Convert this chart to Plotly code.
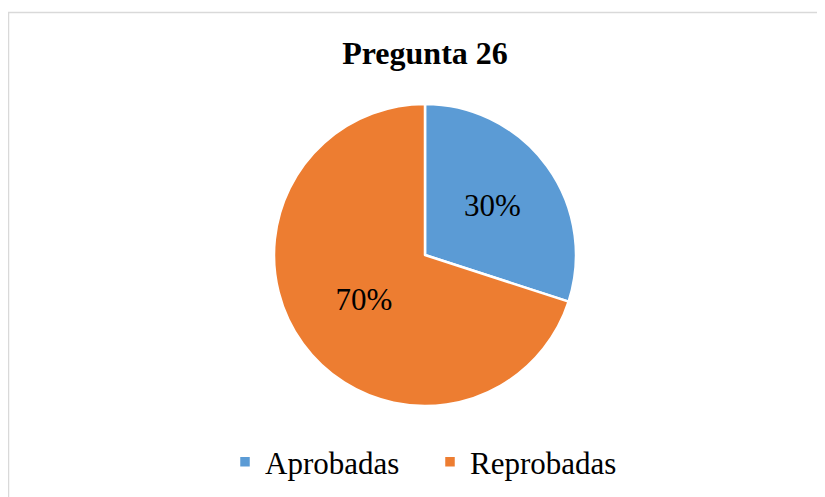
"""
Pie chart: Pregunta 26 - aprobadas vs reprobadas.
"""

import plotly.graph_objects as go

labels = ["Aprobadas", "Reprobadas"]
values = [30, 70]
colors = ["#5B9BD5", "#ED7D31"]

W, H = 825, 497
OFF = 8  # page body margin pushes the figure 8px right/down
FONT = "Liberation Serif, Times New Roman, serif"

# Pie centre / radius in window pixels
CX, CY, R = 425, 255, 151


def px_x(x):
    return (x - OFF) / W


def px_y(y):
    return 1 - (y - OFF) / H


fig = go.Figure()

fig.add_trace(
    go.Pie(
        labels=labels,
        values=values,
        sort=False,
        direction="clockwise",
        rotation=0,
        marker={"colors": colors, "line": {"color": "white", "width": 2.5}},
        textinfo="percent",
        texttemplate="%{percent:.0%}",
        textposition="inside",
        insidetextorientation="horizontal",
        textfont={"family": FONT, "size": 31, "color": "black"},
        hoverinfo="label+percent",
        domain={
            "x": [px_x(CX - R), px_x(CX + R)],
            "y": [px_y(CY + R), px_y(CY - R)],
        },
    )
)

# Light grey frame around the chart area
fig.add_shape(
    type="rect",
    xref="paper",
    yref="paper",
    x0=px_x(8.5),
    x1=1.05,
    y0=-0.05,
    y1=px_y(12.5),
    line={"color": "#d9d9d9", "width": 1.5},
    fillcolor="rgba(0,0,0,0)",
)

fig.update_layout(
    width=W,
    height=H,
    margin={"l": 0, "r": 0, "t": 0, "b": 0},
    paper_bgcolor="white",
    plot_bgcolor="white",
    font={"family": FONT, "color": "black"},
    title={
        "text": "<b>Pregunta 26</b>",
        "x": px_x(425),
        "xanchor": "center",
        "y": px_y(53),
        "yanchor": "middle",
        "font": {"family": FONT, "size": 32, "color": "black"},
    },
    showlegend=True,
    legend={
        "orientation": "h",
        "x": px_x(430),
        "xanchor": "center",
        "y": px_y(462),
        "yanchor": "middle",
        "font": {"family": FONT, "size": 31, "color": "black"},
        "itemwidth": 30,
        "entrywidth": 160,
    },
)

fig.write_html("out.html")
